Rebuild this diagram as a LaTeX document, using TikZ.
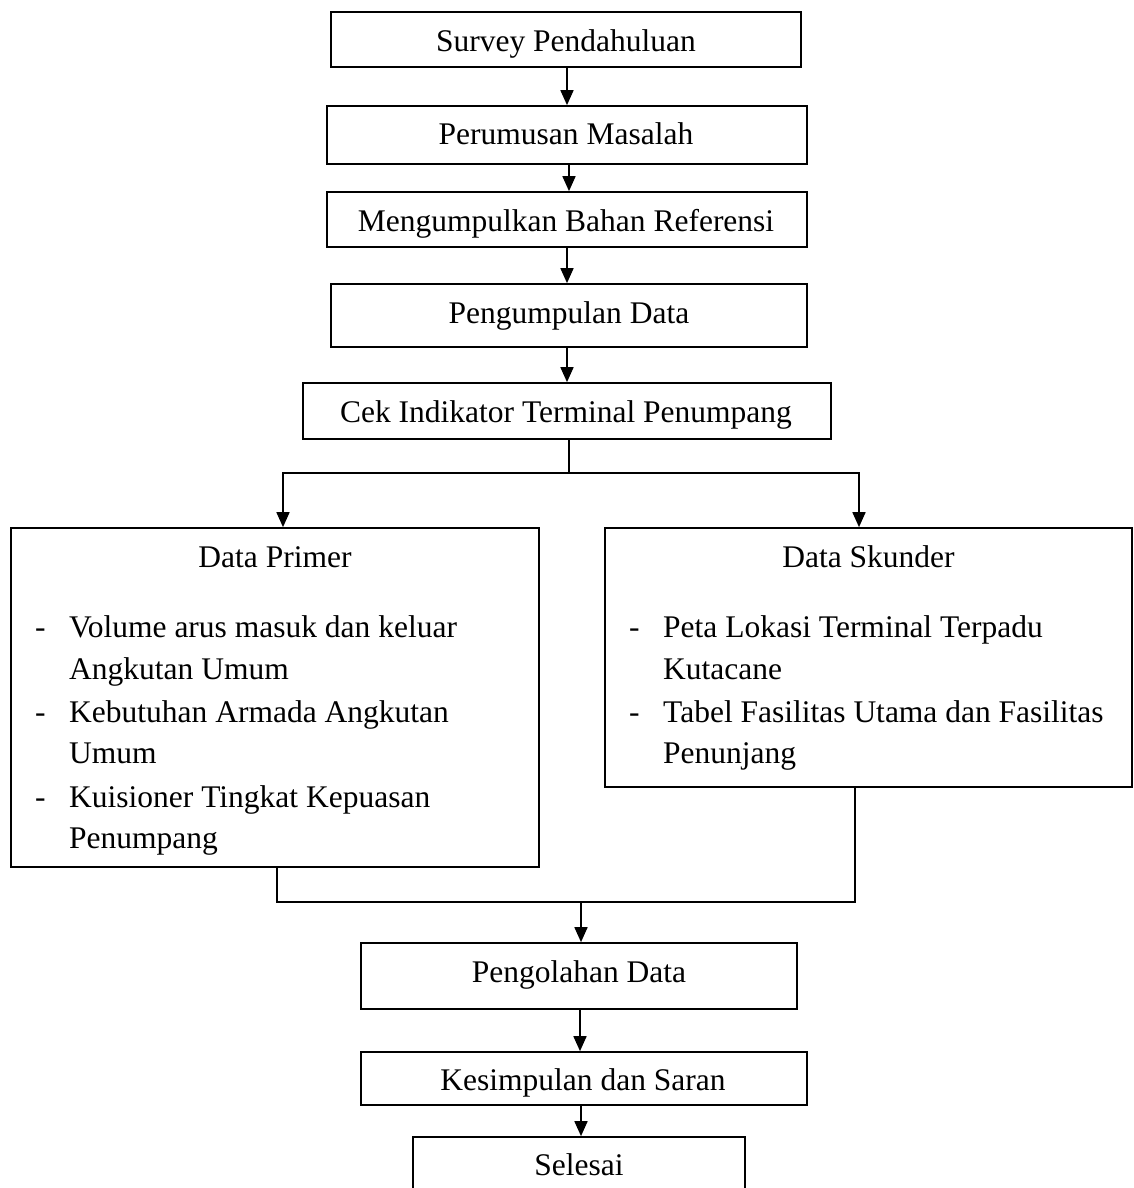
\documentclass[tikz,border=0pt]{standalone}
\usepackage{fontspec}
\setmainfont{Liberation Serif}
\usetikzlibrary{arrows.meta,calc}
\begin{document}
\begin{tikzpicture}[x=1pt,y=-1pt,
  box/.style={draw, line width=1.7pt, rectangle, inner sep=0pt},
  txt/.style={font=\fontsize{31.5}{38}\selectfont, inner sep=0pt, anchor=base},
  ltxt/.style={font=\fontsize{31.5}{38}\selectfont, inner sep=0pt, anchor=base west},
  conn/.style={line width=1.7pt},
  arr/.style={line width=1.7pt, -{Triangle[length=15pt,width=13pt]}}]
\useasboundingbox (0,0) rectangle (1133,1188);
\clip (0,0) rectangle (1133,1188);
% boxes
\node[box, minimum width=470pt, minimum height=55pt] (survey) at (566,39.5) {};
\node[box, minimum width=480pt, minimum height=58pt] (rumus) at (567,135) {};
\node[box, minimum width=480pt, minimum height=55pt] (kumpul) at (567,219.5) {};
\node[box, minimum width=476pt, minimum height=63pt] (data) at (569,315.5) {};
\node[box, minimum width=528pt, minimum height=56pt] (cek) at (567,411) {};
\node[box, minimum width=528pt, minimum height=339pt] (primer) at (275,697.5) {};
\node[box, minimum width=527pt, minimum height=259pt] (skunder) at (868.5,657.5) {};
\node[box, minimum width=436pt, minimum height=66pt] (olah) at (579,976) {};
\node[box, minimum width=446pt, minimum height=53pt] (simpul) at (584,1078.5) {};
\node[box, minimum width=332pt, minimum height=55pt] (selesai) at (579,1164.5) {};
% box texts
\node[txt] (survey-t) at (566,52) {Survey Pendahuluan};
\node[txt] (rumus-t) at (566,145) {Perumusan Masalah};
\node[txt] (kumpul-t) at (566,231) {Mengumpulkan Bahan Referensi};
\node[txt] (data-t) at (569,323) {Pengumpulan Data};
\node[txt] (cek-t) at (566,422) {Cek Indikator Terminal Penumpang};
\node[txt] (olah-t) at (579,982) {Pengolahan Data};
\node[txt] (simpul-t) at (583,1090) {Kesimpulan dan Saran};
\node[txt] (selesai-t) at (579,1175) {Selesai};
% Data Primer content
\node[txt] (primer-t) at (275,567) {Data Primer};
\node[ltxt] (p-d1) at (35,637) {-};
\node[ltxt] (p-l1) at (69,637) {Volume arus masuk dan keluar};
\node[ltxt] (p-l2) at (69,679) {Angkutan Umum};
\node[ltxt] (p-d2) at (35,722) {-};
\node[ltxt] (p-l3) at (69,722) {Kebutuhan Armada Angkutan};
\node[ltxt] (p-l4) at (69,763) {Umum};
\node[ltxt] (p-d3) at (35,807) {-};
\node[ltxt] (p-l5) at (69,807) {Kuisioner Tingkat Kepuasan};
\node[ltxt] (p-l6) at (69,848) {Penumpang};
% Data Skunder content
\node[txt] (skunder-t) at (868.5,567) {Data Skunder};
\node[ltxt] (s-d1) at (629,637) {-};
\node[ltxt] (s-l1) at (663,637) {Peta Lokasi Terminal Terpadu};
\node[ltxt] (s-l2) at (663,679) {Kutacane};
\node[ltxt] (s-d2) at (629,722) {-};
\node[ltxt] (s-l3) at (663,722) {Tabel Fasilitas Utama dan Fasilitas};
\node[ltxt] (s-l4) at (663,763) {Penunjang};
% connectors
\draw[arr] ([xshift=1pt]survey.south) -- ([xshift=1pt]survey.south |- rumus.north);
\draw[arr] ([xshift=2pt]rumus.south) -- ([xshift=2pt]rumus.south |- kumpul.north);
\draw[arr] (kumpul.south) -- (kumpul.south |- data.north);
\draw[arr] ([xshift=-2pt]data.south) -- ([xshift=-2pt]data.south |- cek.north);
\coordinate (split) at (569,473);
\draw[conn] (cek.south -| split) -- (split);
\draw[arr] (split) -| ([xshift=8pt]primer.north);
\draw[arr] (split) -| ([xshift=-9.5pt]skunder.north);
\coordinate (merge) at (581,902);
\draw[conn] ([xshift=2pt]primer.south) |- (merge);
\draw[conn] ([xshift=-13.5pt]skunder.south) |- (merge);
\draw[arr] (merge) -- (merge |- olah.north);
\draw[arr] ([xshift=1pt]olah.south) -- ([xshift=1pt]olah.south |- simpul.north);
\draw[arr] ([xshift=-3pt]simpul.south) -- ([xshift=-3pt]simpul.south |- selesai.north);
\end{tikzpicture}
\end{document}
